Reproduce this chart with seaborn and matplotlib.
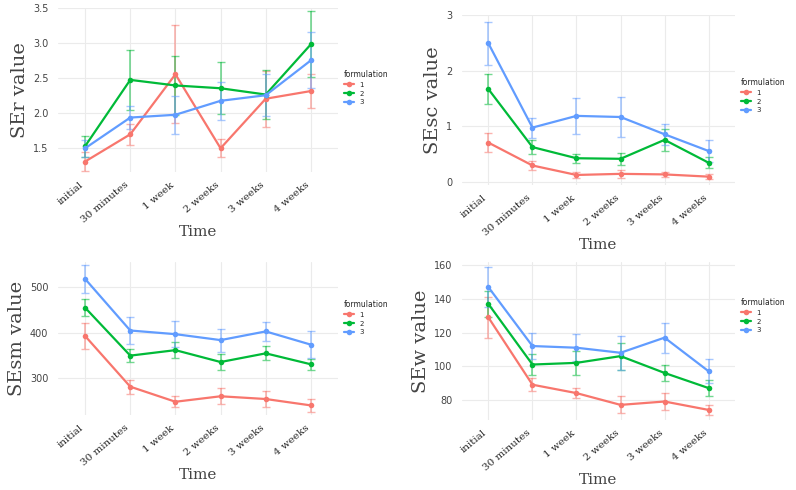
import matplotlib
matplotlib.use("Agg")
import matplotlib.pyplot as plt
import seaborn as sns
import pandas as pd
import numpy as np

times = ["initial", "30 minutes", "1 week", "2 weeks", "3 weeks", "4 weeks"]
formulations = ["1", "2", "3"]

ser_1 = [1.30, 1.69, 2.55, 1.49, 2.20, 2.31]
ser_2 = [1.52, 2.47, 2.39, 2.35, 2.26, 2.98]
ser_3 = [1.49, 1.93, 1.97, 2.17, 2.25, 2.75]
ser_e1 = [0.13, 0.15, 0.70, 0.13, 0.40, 0.25]
ser_e2 = [0.15, 0.43, 0.42, 0.37, 0.35, 0.47]
ser_e3 = [0.12, 0.17, 0.27, 0.27, 0.30, 0.40]

sesc_1 = [0.71, 0.30, 0.13, 0.15, 0.14, 0.10]
sesc_2 = [1.67, 0.63, 0.43, 0.42, 0.76, 0.35]
sesc_3 = [2.49, 0.98, 1.19, 1.17, 0.86, 0.56]
sesc_e1 = [0.17, 0.08, 0.05, 0.07, 0.05, 0.04]
sesc_e2 = [0.27, 0.12, 0.08, 0.11, 0.20, 0.10]
sesc_e3 = [0.38, 0.18, 0.32, 0.36, 0.19, 0.20]

sesm_1 = [393, 282, 249, 261, 255, 241]
sesm_2 = [455, 350, 362, 336, 355, 331]
sesm_3 = [518, 405, 397, 384, 403, 374]
sesm_e1 = [28, 15, 12, 18, 18, 15]
sesm_e2 = [18, 15, 18, 18, 15, 12]
sesm_e3 = [30, 30, 28, 25, 20, 30]

sew_1 = [129, 89, 84, 77, 79, 74]
sew_2 = [137, 101, 102, 106, 96, 87]
sew_3 = [147, 112, 111, 108, 117, 97]
sew_e1 = [12, 4, 3, 5, 5, 3]
sew_e2 = [8, 6, 7, 8, 5, 5]
sew_e3 = [12, 8, 8, 10, 9, 7]

sns.set_theme(style="whitegrid")
plt.rcParams['font.family'] = ['DejaVu Sans']
colors = ["#F8766D", "#00BA38", "#619CFF"]
pal = dict(zip(formulations, colors))

fig = plt.figure(figsize=(7.96, 4.90), dpi=100)
W, H = 796, 490
def ax_at(l, t, r, b):
    return fig.add_axes([l / W, 1 - b / H, (r - l) / W, (b - t) / H])

panels = [
    ((58, 8, 338, 172), "SEr value", [ser_1, ser_2, ser_3], [ser_e1, ser_e2, ser_e3], [1.5, 2.0, 2.5, 3.0, 3.5], (1.15, 3.5), (344, 70)),
    ((462, 15, 735, 185), "SEsc value", [sesc_1, sesc_2, sesc_3], [sesc_e1, sesc_e2, sesc_e3], [0, 1, 2, 3], (-0.05, 3.0), (741, 78)),
    ((58, 262, 338, 415), "SEsm value", [sesm_1, sesm_2, sesm_3], [sesm_e1, sesm_e2, sesm_e3], [300, 400, 500], (220, 555), (344, 300)),
    ((462, 262, 735, 420), "SEw value", [sew_1, sew_2, sew_3], [sew_e1, sew_e2, sew_e3], [80, 100, 120, 140, 160], (68, 162), (741, 298)),
]

for box, ylabel, series, errs, yticks, ylim, legpos in panels:
    ax = ax_at(*box)
    rows = []
    for f, vals in zip(formulations, series):
        for t, v in zip(times, vals):
            rows.append({"Time": t, "value": v, "formulation": f})
    df = pd.DataFrame(rows)
    for i, (f, vals, e) in enumerate(zip(formulations, series, errs)):
        ax.errorbar(np.arange(len(times)), vals, yerr=e, fmt="none", ecolor=colors[i],
                    alpha=0.55, capsize=3, lw=1.2, zorder=2)
    sns.lineplot(data=df, x="Time", y="value", hue="formulation", palette=pal,
                 marker="o", markersize=4, markeredgewidth=0, lw=1.6, ax=ax, sort=False, zorder=3)
    ax.set_ylim(*ylim)
    ax.set_yticks(yticks)
    ax.set_xlim(-0.6, 5.6)
    ax.set_xticks(range(len(times)))
    ax.set_xticklabels(times, rotation=40, ha="right", family="DejaVu Serif", fontsize=7.5)
    ax.tick_params(axis="y", labelsize=7, pad=1, colors="#444444")
    ax.tick_params(axis="x", pad=0)
    for s in ax.spines.values():
        s.set_visible(False)
    ax.grid(True, color="#ebebeb", lw=0.8)
    ax.set_ylabel(ylabel, family="DejaVu Serif", fontsize=14, color="#444444", labelpad=3)
    ax.set_xlabel("Time", family="DejaVu Serif", fontsize=11, color="#444444", labelpad=0)
    leg = ax.legend(title="formulation", loc="upper left",
                    bbox_to_anchor=(legpos[0] / W, 1 - legpos[1] / H),
                    bbox_transform=fig.transFigure, frameon=False, fontsize=5,
                    title_fontsize=5.5, handlelength=1.4, labelspacing=0.4, borderaxespad=0, borderpad=0)
    leg._legend_box.align = "left"

fig.savefig("out.png", dpi=100)
